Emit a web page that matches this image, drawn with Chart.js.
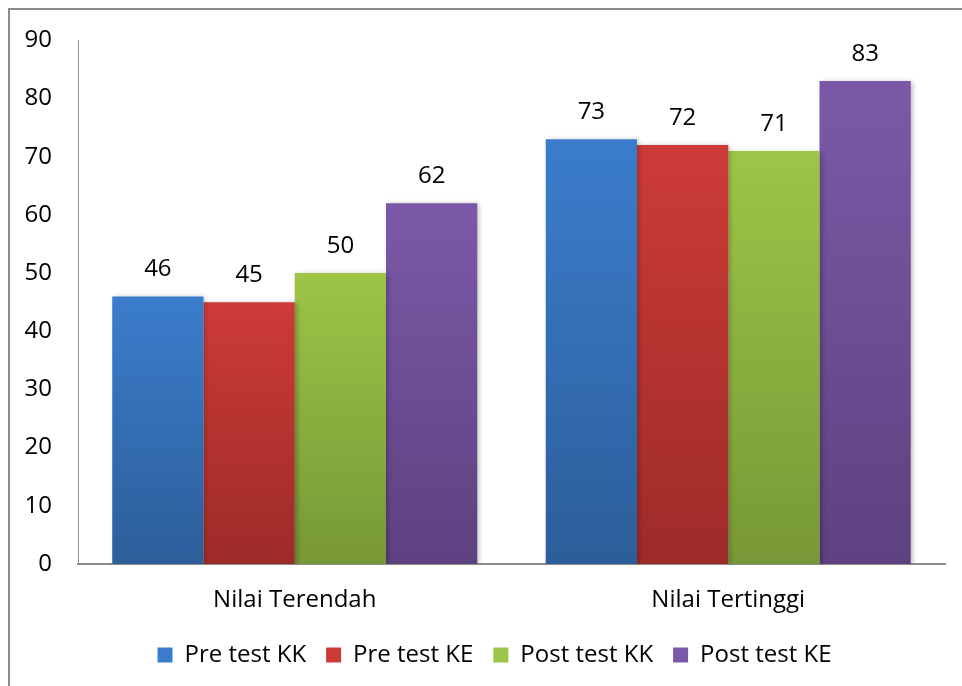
<!DOCTYPE html>
<html>
<head>
<meta charset="utf-8">
<script src="https://cdn.jsdelivr.net/npm/chart.js@4.4.1/dist/chart.umd.min.js"></script>
<style>
  html, body { margin: 0; padding: 0; background: #fff; }
  #wrap { width: 962px; height: 686px; }
</style>
</head>
<body>
<div id="wrap"><canvas id="chart"></canvas></div>
<script>
// values
const categories = ['Nilai Terendah', 'Nilai Tertinggi']
const seriesNames = ['Pre test KK', 'Pre test KE', 'Post test KK', 'Post test KE']
const preTestKK = [46, 73]
const preTestKE = [45, 72]
const postTestKK = [50, 71]
const postTestKE = [62, 83]
const yMin = 0
const yMax = 90
const yStep = 10

// top / bottom colours of each bar gradient
const colorTop = ['#3b7dcc', '#cd3b37', '#9dc547', '#7c59a8']
const colorBottom = ['#2c5e99', '#9d2b28', '#779836', '#5e4180']

const FONT = "'Open Sans', 'Noto Sans', sans-serif"
const FONT_SIZE = 24

function barGradient(i) {
  return (ctx) => {
    const chart = ctx.chart
    if (!chart.chartArea || ctx.type !== 'data') return colorTop[i]
    const yScale = chart.scales.y
    const top = yScale.getPixelForValue(ctx.raw)
    const base = yScale.getPixelForValue(0)
    if (!isFinite(top) || !isFinite(base) || top === base) return colorTop[i]
    const g = chart.ctx.createLinearGradient(0, top, 0, base)
    g.addColorStop(0, colorTop[i])
    g.addColorStop(1, colorBottom[i])
    return g
  }
}

const allSeries = [preTestKK, preTestKE, postTestKK, postTestKE]

const datasets = allSeries.map((values, i) => ({
  label: seriesNames[i],
  data: values,
  backgroundColor: barGradient(i),
  borderWidth: 0,
  barPercentage: 1,
  categoryPercentage: 0.842,
}))

const frameAndLabels = {
  id: 'frameAndLabels',
  afterLayout(chart) {
    // legend in the picture is centred a bit right of the canvas centre
    if (chart.legend) {
      chart.legend.left += 22
      chart.legend.right += 22
    }
  },
  beforeDraw(chart) {
    const c = chart.ctx
    c.save()
    c.fillStyle = '#fff'
    c.fillRect(0, 0, chart.width, chart.height)
    c.strokeStyle = '#8c8c8c'
    c.lineWidth = 2
    c.strokeRect(9, 9, chart.width + 20, chart.height + 20)
    c.restore()
  },
  beforeDatasetDraw(chart) {
    const c = chart.ctx
    c.save()
    c.shadowColor = 'rgba(0,0,0,0.28)'
    c.shadowBlur = 5
    c.shadowOffsetX = 2
    c.shadowOffsetY = 1
  },
  afterDatasetDraw(chart) {
    chart.ctx.restore()
  },
  afterDatasetsDraw(chart) {
    const c = chart.ctx
    c.save()
    c.font = FONT_SIZE + 'px ' + FONT
    c.fillStyle = '#000'
    c.textAlign = 'center'
    c.textBaseline = 'middle'
    chart.data.datasets.forEach((ds, i) => {
      const meta = chart.getDatasetMeta(i)
      meta.data.forEach((bar, j) => {
        c.fillText(ds.data[j], bar.x, bar.y - 27)
      })
    })
    c.restore()
  }
}

new Chart(document.getElementById('chart'), {
  type: 'bar',
  data: { labels: categories, datasets: datasets },
  plugins: [frameAndLabels],
  options: {
    responsive: true,
    maintainAspectRatio: false,
    animation: false,
    layout: { padding: { top: 38, right: 17, bottom: 9, left: 0 } },
    plugins: {
      tooltip: { enabled: false },
      legend: {
        position: 'bottom',
        labels: {
          font: { family: FONT, size: FONT_SIZE },
          color: '#000',
          boxWidth: 15,
          boxHeight: 15,
          padding: 20,
          generateLabels(chart) {
            return chart.data.datasets.map((ds, i) => ({
              text: ds.label,
              fillStyle: colorTop[i],
              strokeStyle: colorTop[i],
              lineWidth: 0,
              hidden: false,
              datasetIndex: i,
            }))
          }
        }
      }
    },
    scales: {
      x: {
        grid: { display: false, drawTicks: false },
        border: { color: '#8c8c8c', width: 2 },
        ticks: { font: { family: FONT, size: FONT_SIZE }, color: '#000', padding: 22 },
        afterFit(scale) { scale.height = 59 }
      },
      y: {
        min: yMin,
        max: yMax,
        grid: { display: false, drawTicks: false },
        border: { color: '#8c8c8c', width: 1 },
        ticks: { stepSize: yStep, font: { family: FONT, size: FONT_SIZE }, color: '#000', padding: 26 },
        afterFit(scale) { scale.width = 78 }
      }
    }
  }
})
</script>
</body>
</html>
